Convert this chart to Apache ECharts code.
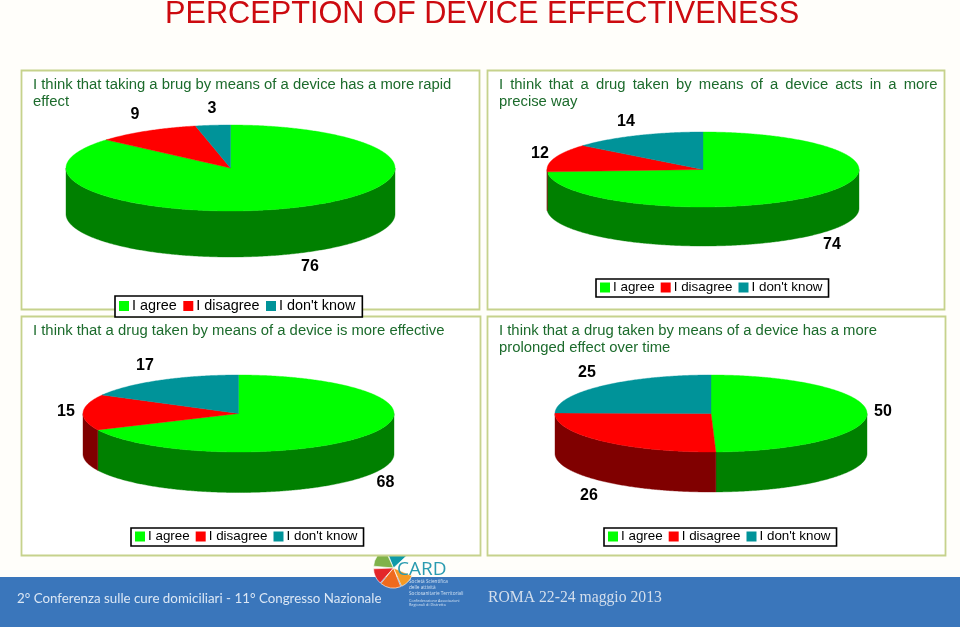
<!DOCTYPE html>
<html><head><meta charset="utf-8">
<style>html,body{margin:0;padding:0;background:#fffefa}#c{width:960px;height:627px}</style>
<script src="https://cdn.jsdelivr.net/npm/echarts@6/dist/echarts.min.js"></script>
</head><body><div id="c"></div>
<script>
const answers = ['I agree', 'I disagree', "I don't know"];
const rapidEffect = [76, 9, 3];
const preciseAction = [74, 12, 14];
const moreEffective = [68, 15, 17];
const prolongedEffect = [50, 26, 25];

const mainTitle = 'PERCEPTION OF DEVICE EFFECTIVENESS';
const question1 = 'I think that taking a brug by means of a device has a more rapid\neffect';
const question2 = 'I \u2009think \u2009that \u2009a \u2009drug \u2009taken \u2009by \u2009means \u2009of \u2009a \u2009device \u2009acts \u2009in \u2009a \u2009more\nprecise way';
const question3 = 'I think that a drug taken by means of a device is more effective';
const question4 = 'I think that a drug taken by means of a device has a more\nprolonged effect over time';

const topColors = ['#00ff00', '#ff0000', '#009399'];
const wallColors = ['#008000', '#800000', '#004a4d'];

const panels = [
  { values: rapidEffect, q: question1, frame: [21, 70, 458, 239], qPos: [33, 76],
    pie: { cx: 230.5, cy: 168, rx: 164.5, ry: 43, d: 46 },
    labels: [[310, 267], [135, 115], [212, 109]], legend: [115, 296], legendPad: [3, 7, 4, 4], legendFont: 14.4, legendGap: 6.5 },
  { values: preciseAction, q: question2, frame: [487, 70, 457, 239], qPos: [499, 76],
    pie: { cx: 703, cy: 169.5, rx: 156, ry: 37.5, d: 39 },
    labels: [[832, 245], [540, 154], [626, 122]], legend: [596, 279], legendPad: [2, 6, 3, 4], legendFont: 13.4, legendGap: 6 },
  { values: moreEffective, q: question3, frame: [21, 316, 459, 239], qPos: [33, 322],
    pie: { cx: 238.5, cy: 413.5, rx: 155.5, ry: 38.5, d: 40.5 },
    labels: [[385.5, 483], [66, 412], [145, 366]], legend: [131, 528], legendPad: [2, 6, 3, 4], legendFont: 13.4, legendGap: 6 },
  { values: prolongedEffect, q: question4, frame: [487, 316, 458, 239], qPos: [499, 322],
    pie: { cx: 711, cy: 413.5, rx: 156, ry: 38.5, d: 40 },
    labels: [[883, 412], [589, 496], [587, 373]], legend: [604, 528], legendPad: [2, 6, 3, 4], legendFont: 13.4, legendGap: 6 }
];

function arc(pie, a0, a1, dy) {
  const pts = [];
  const n = Math.max(2, Math.ceil((a1 - a0) / 0.01));
  for (let i = 0; i <= n; i++) {
    const a = a0 + (a1 - a0) * i / n;
    pts.push([pie.cx + pie.rx * Math.sin(a), pie.cy - pie.ry * Math.cos(a) + dy]);
  }
  return pts;
}

const series = [];
panels.forEach(function (p) {
  const total = p.values.reduce(function (s, v) { return s + v; }, 0);
  answers.forEach(function (name, k) {
    const before = p.values.slice(0, k).reduce(function (s, v) { return s + v; }, 0);
    series.push({
      type: 'custom', name: name, coordinateSystem: 'none', silent: true, clip: false,
      itemStyle: { color: topColors[k] },
      data: [[p.values[k]]],
      renderItem: function (params, api) {
        const v = api.value(0);
        const range = [0, Math.PI * 2];
        const a0 = echarts.number.linearMap(before, [0, total], range);
        const a1 = echarts.number.linearMap(before + v, [0, total], range);
        const children = [];
        const w0 = Math.max(a0, Math.PI / 2), w1 = Math.min(a1, Math.PI * 1.5);
        if (w1 > w0) {
          const wall = arc(p.pie, w0, w1, 0).concat(arc(p.pie, w0, w1, p.pie.d).reverse());
          children.push({ type: 'polygon', shape: { points: wall },
            style: { fill: wallColors[k], stroke: wallColors[k], lineWidth: 0.4 } });
        }
        const face = [[p.pie.cx, p.pie.cy]].concat(arc(p.pie, a0, a1, 0));
        children.push({ type: 'polygon', shape: { points: face },
          style: { fill: topColors[k], stroke: topColors[k], lineWidth: 0.4 } });
        children.push({ type: 'text', z2: 10, style: {
          text: String(v), x: p.labels[k][0], y: p.labels[k][1], align: 'center', verticalAlign: 'middle',
          fill: '#000', font: 'bold 16px "Liberation Sans", Arial, sans-serif' } });
        return { type: 'group', children: children };
      }
    });
  });
});

const graphicEls = [
  { type: 'rect', z: -5, shape: { x: 0, y: 577, width: 960, height: 50 }, style: { fill: '#3a76bb' } }
];
// conference logo, sits behind the panel frame that clips its top
const logoSlices = [
  ['#0d9aa8', -1.95, -0.75], ['#7fb24a', -3.05, -2.0], ['#e3262a', 2.3, 3.1], ['#ef6a1e', 1.2, 2.25], ['#f59a24', 0.4, 1.15]
];
logoSlices.forEach(function (s) {
  graphicEls.push({ type: 'sector', z: -4.5, shape: { cx: 393.5, cy: 568, r: 20, r0: 0, startAngle: s[1], endAngle: s[2] },
    style: { fill: s[0], stroke: '#fff', lineWidth: 0.6 } });
});
panels.forEach(function (p) {
  const f = p.frame;
  graphicEls.push({ type: 'rect', z: -4, shape: { x: f[0] + 0.5, y: f[1] + 0.5, width: f[2], height: f[3] },
    style: { fill: '#ffffff', stroke: '#c6d28c', lineWidth: 1.8 } });
});
graphicEls.push(
  { type: 'text', z: 1, x: 17, y: 598, scaleX: 0.953, style: { text: '2° Conferenza sulle cure domiciliari - 11° Congresso Nazionale',
    verticalAlign: 'middle', fill: '#dbe7f5', font: '14px Lato, sans-serif' } },
  { type: 'text', z: 1, style: { text: 'ROMA 22-24 maggio 2013', x: 488, y: 598,
    verticalAlign: 'middle', fill: '#d3deec', font: '15.7px "Liberation Serif", serif' } },
  { type: 'text', z: 3, style: { text: 'CARD', x: 397, y: 570, verticalAlign: 'middle',
    fill: '#2a9bb0', font: '19px "Open Sans", sans-serif' } }
);
[['Società Scientifica', 582], ['delle attività', 587.5], ['Sociosanitarie Territoriali', 593.5],
 ['Confederazione Associazioni', 601], ['Regionali di Distretto', 605]].forEach(function (t) {
  graphicEls.push({ type: 'text', z: 3, style: { text: t[0], x: 409, y: t[1], verticalAlign: 'middle',
    fill: '#cfe0f2', font: (t[1] > 597 ? '3.8px' : '4.7px') + ' "Open Sans", sans-serif' } });
});

const chart = echarts.init(document.getElementById('c'), null, { renderer: 'canvas' });
chart.setOption({
  animation: false,
  backgroundColor: '#fffefa',
  tooltip: { show: false },
  title: [
    { text: mainTitle, left: 165, top: -1, padding: 0,
      textStyle: { color: '#cc0a0f', fontSize: 30.7, fontWeight: 'normal', fontFamily: '"Liberation Sans", Arial, sans-serif' } }
  ].concat(panels.map(function (p) {
    return { text: p.q, left: p.qPos[0], top: p.qPos[1], padding: 0,
      textStyle: { color: '#1c6b2c', fontSize: 14.85, lineHeight: 17, fontWeight: 'normal',
        fontFamily: '"Liberation Sans", Arial, sans-serif' } };
  })),
  legend: panels.map(function (p) {
    return { data: answers, left: p.legend[0], top: p.legend[1], orient: 'horizontal', icon: 'rect',
      selectedMode: false, itemWidth: 10, itemHeight: 10, itemGap: p.legendGap, padding: p.legendPad,
      backgroundColor: '#fff', borderColor: '#000', borderWidth: 1.6,
      textStyle: { color: '#000', fontSize: p.legendFont, padding: [0, 0, 0, -2], fontFamily: '"Liberation Sans", Arial, sans-serif' } };
  }),
  graphic: { elements: graphicEls },
  series: series
});
</script></body></html>
